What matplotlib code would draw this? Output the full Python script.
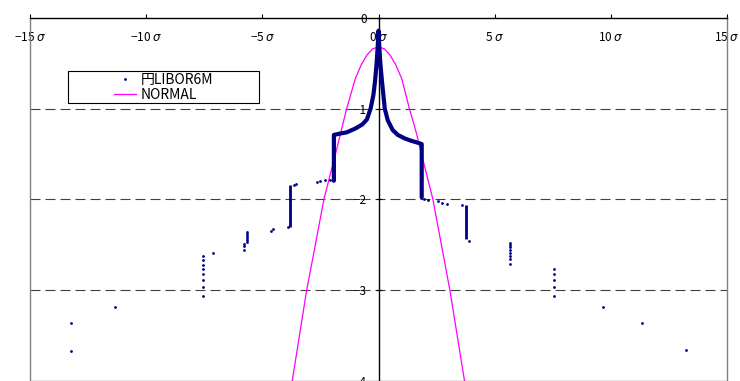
import matplotlib.pyplot as plt
from matplotlib.patches import Rectangle

# empirical distribution (log10 scale), x in units of sigma
# dense central band; the ties at -1.92 and 1.86 sigma show as vertical runs
band_x = [-1.92, -1.92, -1.65, -1.37, -1.0, -0.7, -0.5, -0.34, -0.22, -0.15, -0.08, -0.03, 0.0,
          0.03, 0.08, 0.15, 0.27, 0.40, 0.61, 0.83, 1.12, 1.40, 1.69, 1.86, 1.86]
band_y = [-1.796, -1.29, -1.275, -1.262, -1.22, -1.175, -1.12, -1.0, -0.85, -0.7, -0.5, -0.3, -0.14,
          -0.3, -0.5, -0.7, -1.0, -1.13, -1.236, -1.29, -1.328, -1.354, -1.376, -1.391, -1.979]

# other runs of tied observations
run_x = [-3.81, 3.75]
run_top = [-1.843, -2.064]
run_bot = [-2.303, -2.443]

# isolated observations in the tails
dot_x = [-13.25, -13.25, -11.36,
         -7.57, -7.57, -7.57, -7.57, -7.57, -7.57, -7.57, -7.57,
         -7.11,
         -5.68, -5.68, -5.68, -5.68, -5.68, -5.68, -5.77, -5.77, -5.77,
         -4.62, -4.55, -3.88, -3.63, -3.55,
         -2.63, -2.52, -2.30, -2.08,
         1.97, 2.12, 2.58, 2.72, 2.94,
         3.60, 3.89,
         5.67, 5.67, 5.67, 5.67, 5.67, 5.67, 5.67, 5.67,
         7.57, 7.57, 7.57, 7.57, 7.57,
         9.67, 11.33, 13.22]
dot_y = [-3.37, -3.67, -3.19,
         -2.63, -2.67, -2.72, -2.77, -2.83, -2.89, -2.97, -3.07,
         -2.59,
         -2.362, -2.384, -2.406, -2.428, -2.45, -2.469, -2.494, -2.517, -2.561,
         -2.347, -2.329, -2.307, -1.843, -1.836,
         -1.81, -1.80, -1.79, -1.79,
         -1.994, -2.009, -2.02, -2.039, -2.056,
         -2.064, -2.461,
         -2.487, -2.509, -2.531, -2.561, -2.591, -2.624, -2.664, -2.715,
         -2.767, -2.826, -2.892, -2.973, -3.068,
         -3.193, -3.37, -3.668]

# normal distribution for comparison
norm_x = [-3.71, -3.09, -2.76, -2.35, -1.84, -1.62, -1.37, -1.0, -0.75, -0.5, -0.25, 0.0,
          0.25, 0.5, 0.75, 1.0, 1.33, 1.62, 1.84, 2.34, 2.75, 3.07, 3.70]
norm_y = [-4.0, -3.0, -2.56, -2.0, -1.49, -1.26, -1.0, -0.67, -0.52, -0.41, -0.34, -0.32,
          -0.34, -0.41, -0.52, -0.67, -1.0, -1.26, -1.49, -2.0, -2.56, -3.0, -4.0]

x_ticks = [-15, -10, -5, 0, 5, 10, 15]
y_ticks = [0, -1, -2, -3, -4]
grid_levels = [-1, -2, -3]

navy = "#000080"
magenta = "#FF00FF"
W, H = 740, 381

plt.rcParams["font.family"] = ["Noto Sans CJK JP", "DejaVu Sans"]

fig = plt.figure(figsize=(W / 100, H / 100), dpi=100)
ax = fig.add_axes([30 / W, 0.5 / H, 697 / W, 362.5 / H])
ax.set_xlim(-15, 15)
ax.set_ylim(-4, 0)

# frame: grey plot-area border, black axes through the origin
for side in ("right", "bottom"):
    ax.spines[side].set_color("#808080")
    ax.spines[side].set_linewidth(1)
ax.plot([0, 0], [0, 1], transform=ax.transAxes, color="#808080", lw=1, clip_on=False, zorder=2.5)
ax.spines["top"].set_color("black")
ax.spines["top"].set_linewidth(1)
ax.spines["left"].set_position(("data", 0))
ax.spines["left"].set_color("black")
ax.spines["left"].set_linewidth(1)

ax.xaxis.tick_top()
ax.set_xticks(x_ticks)
ax.set_xticklabels([f"{v}".replace("-", "\u2212") + r" $\sigma$" for v in x_ticks])
ax.tick_params(axis="x", direction="out", length=3, width=0.8, labelsize=8.5, pad=-21.5)

ax.set_yticks(y_ticks)
ax.set_yticklabels([f"{v}".replace("-", "\u2212") for v in y_ticks])
ax.tick_params(axis="y", direction="inout", length=4.5, width=0.8, labelsize=8.5, pad=6.2)

for v in grid_levels:
    ax.axhline(v, color="#404040", lw=0.8, ls=(0, (9, 4.5)), zorder=1)

ax.plot(norm_x, norm_y, color=magenta, lw=0.9, zorder=2, label="NORMAL")
ax.plot(band_x, band_y, color=navy, lw=3, solid_joinstyle="round", solid_capstyle="round", zorder=3)
ax.vlines(run_x, run_bot, run_top, color=navy, lw=2, zorder=3)
ax.plot(dot_x, dot_y, "o", ls="none", ms=2, mew=0, color=navy, zorder=3, label="円LIBOR6M")

# legend with a plain black box
ax.add_patch(Rectangle((68.3 / W, 1 - 103.3 / H), 190.7 / W, 32.6 / H, transform=fig.transFigure,
                       facecolor="white", edgecolor="black", lw=0.8, zorder=4.9, clip_on=False))
handles, labels = ax.get_legend_handles_labels()
ax.legend(handles[::-1], labels[::-1], loc="center", bbox_to_anchor=(163.7 / W, 1 - 87.5 / H),
          bbox_transform=fig.transFigure, frameon=False, fontsize=10, handlelength=1.6,
          handletextpad=0.3, labelspacing=0.05, borderpad=0)

fig.savefig("out.png", dpi=100)
